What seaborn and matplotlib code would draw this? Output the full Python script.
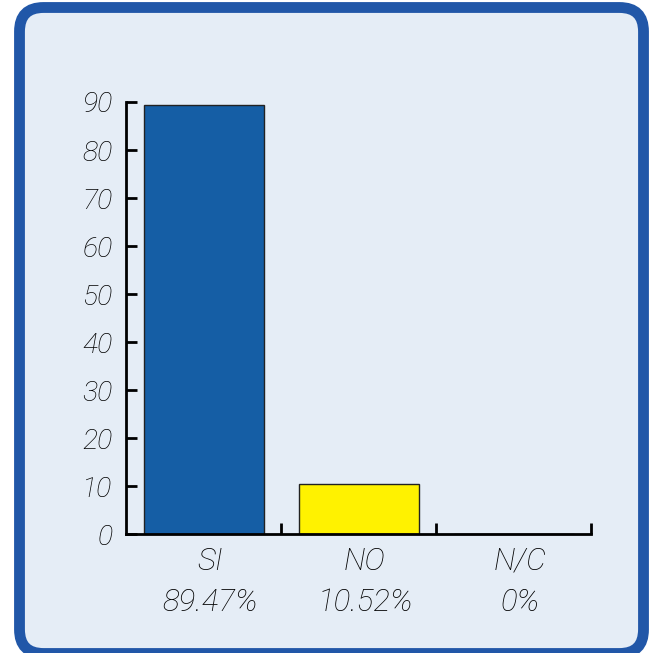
import matplotlib
matplotlib.use("Agg")
import matplotlib.pyplot as plt
import matplotlib.transforms as mtransforms
from matplotlib.patches import FancyBboxPatch
import seaborn as sns

categories = ["SI", "NO", "N/C"]
values = [89.47, 10.52, 0]
pct_labels = ["89.47%", "10.52%", "0%"]
bar_colors = ["#155EA5", "#FFF200", "#FFFFFF"]
y_ticks = [0, 10, 20, 30, 40, 50, 60, 70, 80, 90]

sns.set_theme(style="white")
plt.rcParams["font.family"] = ["Roboto", "DejaVu Sans"]

W = H = 653
fig = plt.figure(figsize=(W / 100, H / 100), dpi=100)
fig.patch.set_facecolor("white")

# rounded background panel, drawn in pixel units
bg = fig.add_axes([0, 0, 1, 1])
bg.set_xlim(0, W)
bg.set_ylim(H, 0)
bg.axis("off")
panel = FancyBboxPatch((19.5, 7.5), 624, 646,
                       boxstyle="round,pad=0,rounding_size=24",
                       facecolor="#E5EDF6", edgecolor="#2157A8",
                       linewidth=7.8)
bg.add_patch(panel)

ax = fig.add_axes([0.1937, 0.1822, 0.7121, 0.6616])
ax.set_facecolor("none")
sns.barplot(x=categories, y=values, hue=categories,
            palette=bar_colors, saturation=1, legend=False,
            width=0.77, edgecolor="#222222", linewidth=1.0, ax=ax)

ax.set_xlim(-0.5, 2.5)
ax.set_ylim(0, 90)
ax.set_yticks(y_ticks)
ax.set_yticklabels([str(t) for t in y_ticks])
ax.set_xticks(range(len(categories)))
ax.set_xticklabels([f"{c}\n{p}" for c, p in zip(categories, pct_labels)])
ax.set_xticks([0.5, 1.5, 2.5], minor=True)

for s in ("top", "right"):
    ax.spines[s].set_visible(False)
for s in ("left", "bottom"):
    ax.spines[s].set_color("black")
    ax.spines[s].set_linewidth(2.0)

ax.tick_params(axis="y", which="major", direction="in", length=8, width=2.0,
               color="black", pad=10, left=True)
ax.tick_params(axis="x", which="major", length=0, pad=9, bottom=True)
ax.tick_params(axis="x", which="minor", direction="in", length=8, width=2.0,
               color="black", bottom=True)

for lab in ax.get_yticklabels():
    lab.set_fontstyle("italic")
    lab.set_fontweight("light")
    lab.set_fontsize(20.5)
    lab.set_color("black")

shift = mtransforms.ScaledTranslation(6 / 100, 0, fig.dpi_scale_trans)
for lab in ax.get_xticklabels():
    lab.set_fontstyle("italic")
    lab.set_fontweight("light")
    lab.set_fontsize(22.5)
    lab.set_color("black")
    lab.set_linespacing(1.55)
    lab.set_multialignment("center")
    lab.set_transform(lab.get_transform() + shift)

ax.set_xlabel("")
ax.set_ylabel("")
fig.savefig("out.png", dpi=100)
